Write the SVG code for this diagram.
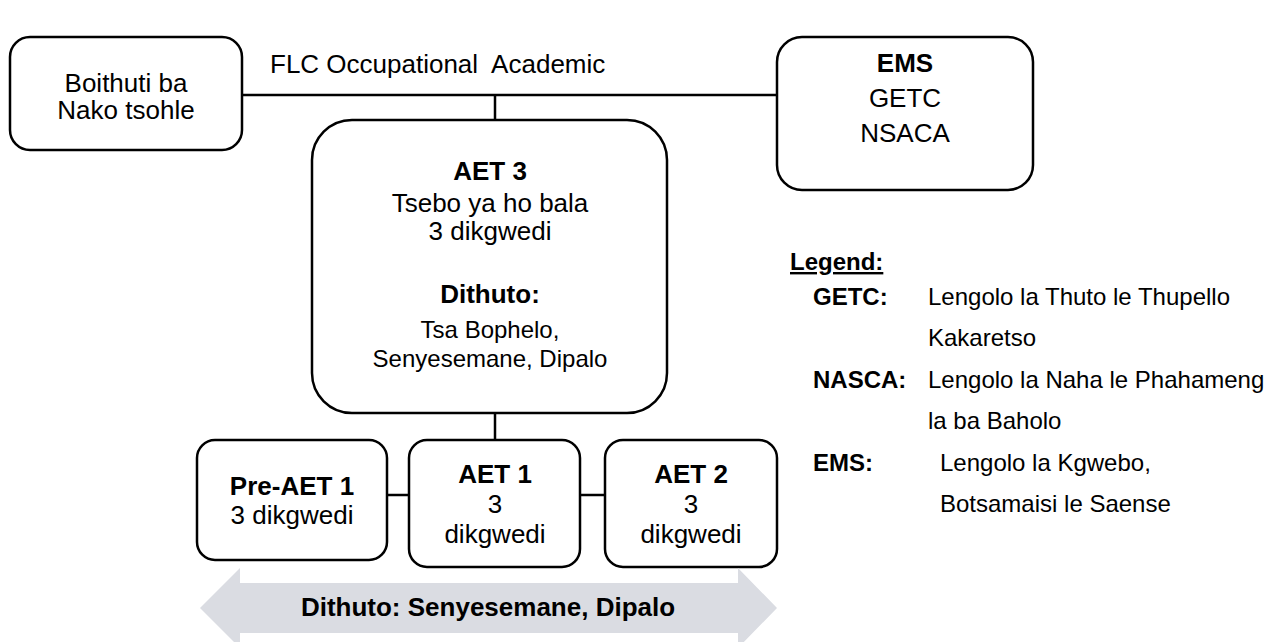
<svg xmlns="http://www.w3.org/2000/svg" width="1276" height="642" viewBox="0 0 1276 642">
<style>
.box{fill:#fff;stroke:#000;stroke-width:2.5}
.ln{stroke:#000;stroke-width:2.5;fill:none}
text{font-family:"Liberation Sans",Arial,sans-serif;fill:#000}
.c{text-anchor:middle}
.b{font-weight:bold}
.t26{font-size:26px}
.t24{font-size:24px}
.lg{font-size:24px}
</style>
<rect width="1276" height="642" fill="#fff"/>
<g id="connectors">
<line class="ln" x1="242" y1="95" x2="777" y2="95"/>
<line class="ln" x1="495" y1="95" x2="495" y2="120"/>
<line class="ln" x1="495" y1="413" x2="495" y2="440"/>
<line class="ln" x1="387" y1="495" x2="409" y2="495"/>
<line class="ln" x1="580" y1="495" x2="605" y2="495"/>
</g>
<g id="flc-label">
<text class="t26" x="270" y="73" xml:space="preserve">FLC Occupational  Academic</text>
</g>
<g id="node-boithuti">
<rect class="box" x="10" y="37" width="232" height="113" rx="20"/>
<text class="t26 c" x="126" y="92">Boithuti ba</text>
<text class="t26 c" x="126" y="119">Nako tsohle</text>
</g>
<g id="node-ems">
<rect class="box" x="777" y="37" width="256" height="153" rx="25"/>
<text class="t26 c b" x="905" y="72">EMS</text>
<text class="t26 c" x="905" y="107">GETC</text>
<text class="t26 c" x="905" y="142">NSACA</text>
</g>
<g id="node-aet3">
<rect class="box" x="312" y="120" width="355" height="293" rx="40"/>
<text class="t26 c b" x="490" y="180">AET 3</text>
<text class="t26 c" x="490" y="212">Tsebo ya ho bala</text>
<text class="t26 c" x="490" y="240">3 dikgwedi</text>
<text class="t26 c b" x="490" y="303">Dithuto:</text>
<text class="t24 c" x="490" y="338">Tsa Bophelo,</text>
<text class="t24 c" x="490" y="367">Senyesemane, Dipalo</text>
</g>
<g id="node-preaet1">
<rect class="box" x="197" y="440" width="190" height="120" rx="18"/>
<text class="t26 c b" x="292" y="495">Pre-AET 1</text>
<text class="t26 c" x="292" y="524">3 dikgwedi</text>
</g>
<g id="node-aet1">
<rect class="box" x="409" y="440" width="171" height="127" rx="18"/>
<text class="t26 c b" x="495" y="483">AET 1</text>
<text class="t26 c" x="495" y="513">3</text>
<text class="t26 c" x="495" y="543">dikgwedi</text>
</g>
<g id="node-aet2">
<rect class="box" x="605" y="440" width="172" height="127" rx="18"/>
<text class="t26 c b" x="691" y="483">AET 2</text>
<text class="t26 c" x="691" y="513">3</text>
<text class="t26 c" x="691" y="543">dikgwedi</text>
</g>
<g id="arrow">
<polygon points="200,608 240,568 240,583 738,583 738,568 777,608 738,648 738,633 240,633 240,648" fill="#dadce2"/>
<text class="t26 c b" x="488" y="616">Dithuto: Senyesemane, Dipalo</text>
</g>
<g id="legend">
<text class="lg b" x="790" y="270" text-decoration="underline">Legend:</text>
<text class="lg b" x="813" y="305">GETC:</text>
<text class="lg" x="928" y="305">Lengolo la Thuto le Thupello</text>
<text class="lg" x="928" y="346">Kakaretso</text>
<text class="lg b" x="813" y="388">NASCA:</text>
<text class="lg" x="928" y="388">Lengolo la Naha le Phahameng</text>
<text class="lg" x="928" y="429">la ba Baholo</text>
<text class="lg b" x="813" y="471">EMS:</text>
<text class="lg" x="940" y="471">Lengolo la Kgwebo,</text>
<text class="lg" x="940" y="512">Botsamaisi le Saense</text>
</g>
</svg>
